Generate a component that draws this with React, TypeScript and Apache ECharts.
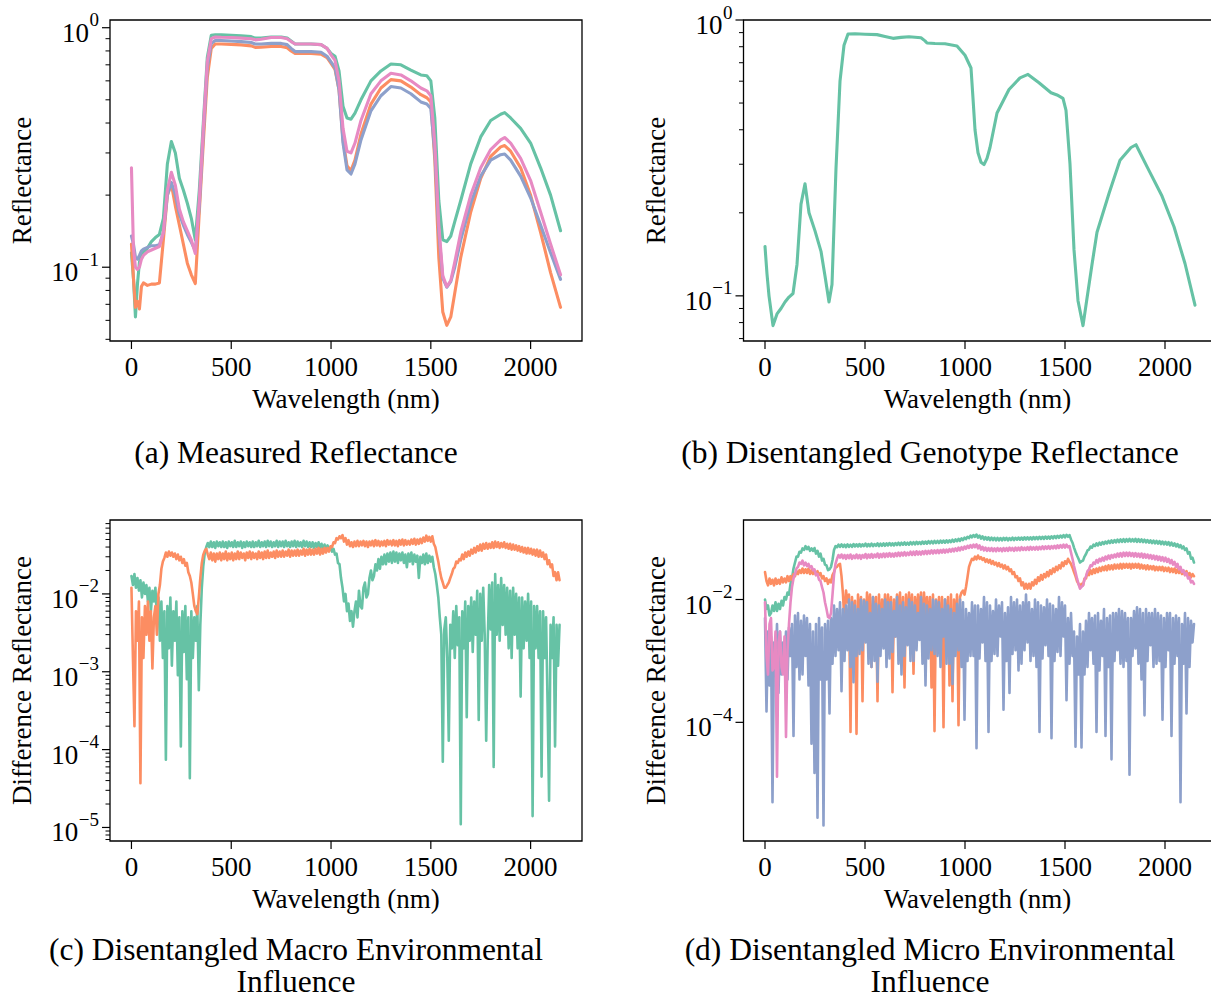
import React, { useEffect, useRef } from 'react';
import * as echarts from 'echarts';

const FONT = "'Liberation Serif', 'Times New Roman', Times, serif";
const C_GREEN = '#66c2a5';
const C_ORANGE = '#fc8d62';
const C_BLUE = '#8da0cb';
const C_PINK = '#e78ac3';

// ---------- (a) Measured Reflectance ----------
const xA = [0,10,20,30,40,50,60,80,100,120,140,160,180,200,220,240,260,280,300,320,340,360,380,400,420,450,500,550,600,620,650,700,750,780,800,820,850,900,950,980,1000,1020,1040,1060,1080,1100,1120,1150,1200,1250,1300,1350,1400,1450,1480,1500,1520,1540,1560,1580,1600,1620,1650,1700,1750,1800,1850,1870,1900,1950,2000,2050,2100,2150];
const measGreen = [0.115,0.09,0.062,0.085,0.105,0.113,0.116,0.12,0.128,0.133,0.137,0.16,0.27,0.335,0.3,0.235,0.21,0.185,0.16,0.13,0.21,0.40,0.75,0.93,0.935,0.935,0.93,0.925,0.918,0.905,0.905,0.915,0.915,0.905,0.88,0.855,0.855,0.855,0.85,0.82,0.78,0.76,0.66,0.47,0.42,0.415,0.44,0.5,0.6,0.66,0.705,0.7,0.665,0.635,0.63,0.6,0.42,0.19,0.13,0.128,0.135,0.155,0.19,0.27,0.35,0.41,0.435,0.442,0.42,0.38,0.33,0.26,0.2,0.142];
const measOrange = [0.125,0.09,0.068,0.072,0.067,0.083,0.086,0.084,0.085,0.085,0.086,0.13,0.2,0.222,0.18,0.15,0.125,0.104,0.093,0.0855,0.17,0.33,0.62,0.82,0.855,0.855,0.852,0.848,0.84,0.828,0.83,0.835,0.835,0.825,0.8,0.78,0.78,0.78,0.775,0.75,0.71,0.67,0.55,0.34,0.265,0.253,0.28,0.36,0.48,0.56,0.607,0.6,0.565,0.525,0.51,0.49,0.28,0.11,0.065,0.0572,0.062,0.078,0.11,0.17,0.235,0.29,0.318,0.322,0.305,0.26,0.2,0.14,0.095,0.068];
const measBlue = [0.135,0.125,0.11,0.108,0.112,0.117,0.119,0.121,0.123,0.123,0.124,0.14,0.2,0.226,0.2,0.167,0.15,0.137,0.127,0.117,0.18,0.36,0.68,0.86,0.885,0.885,0.88,0.875,0.868,0.855,0.855,0.86,0.86,0.85,0.82,0.795,0.795,0.795,0.79,0.76,0.72,0.68,0.55,0.33,0.255,0.245,0.27,0.34,0.45,0.52,0.568,0.56,0.53,0.49,0.48,0.46,0.3,0.14,0.09,0.0825,0.087,0.1,0.13,0.185,0.24,0.28,0.295,0.297,0.28,0.24,0.195,0.15,0.115,0.089];
const measPink = [0.26,0.12,0.1,0.098,0.1,0.108,0.112,0.116,0.118,0.12,0.122,0.14,0.21,0.249,0.22,0.175,0.155,0.142,0.13,0.114,0.19,0.38,0.72,0.9,0.915,0.912,0.91,0.905,0.9,0.89,0.895,0.91,0.91,0.9,0.875,0.855,0.855,0.855,0.85,0.82,0.77,0.73,0.6,0.38,0.305,0.3,0.33,0.41,0.53,0.6,0.645,0.635,0.6,0.56,0.545,0.52,0.33,0.15,0.092,0.083,0.088,0.105,0.14,0.2,0.26,0.31,0.34,0.348,0.33,0.285,0.23,0.17,0.125,0.093];

// ---------- (b) Disentangled Genotype Reflectance ----------
const xB = [0,10,20,40,60,80,100,120,140,160,180,200,220,250,280,300,320,335,355,375,395,415,450,500,560,600,640,680,720,780,800,810,850,900,960,1000,1030,1040,1050,1065,1080,1095,1110,1125,1160,1220,1275,1315,1370,1430,1460,1490,1505,1525,1545,1565,1590,1610,1635,1660,1720,1775,1830,1855,1910,1985,2045,2100,2150];
const genoGreen = [0.151,0.12,0.1,0.078,0.086,0.09,0.095,0.099,0.102,0.13,0.215,0.255,0.2,0.172,0.145,0.118,0.095,0.11,0.29,0.6,0.81,0.89,0.892,0.888,0.885,0.872,0.858,0.865,0.87,0.862,0.84,0.825,0.822,0.82,0.805,0.745,0.67,0.52,0.4,0.33,0.305,0.299,0.315,0.345,0.46,0.56,0.617,0.635,0.592,0.545,0.535,0.52,0.47,0.3,0.147,0.096,0.078,0.098,0.13,0.17,0.235,0.31,0.345,0.353,0.294,0.23,0.178,0.131,0.0925];

// ---------- (c) and (d): sampled every 7.5 nm ----------
const xF = [
  0,7.5,15,22.5,30,37.5,45,52.5,60,67.5,
  75,82.5,90,97.5,105,112.5,120,127.5,135,142.5,
  150,157.5,165,172.5,180,187.5,195,202.5,210,217.5,
  225,232.5,240,247.5,255,262.5,270,277.5,285,292.5,
  300,307.5,315,322.5,330,337.5,345,352.5,360,367.5,
  375,382.5,390,397.5,405,412.5,420,427.5,435,442.5,
  450,457.5,465,472.5,480,487.5,495,502.5,510,517.5,
  525,532.5,540,547.5,555,562.5,570,577.5,585,592.5,
  600,607.5,615,622.5,630,637.5,645,652.5,660,667.5,
  675,682.5,690,697.5,705,712.5,720,727.5,735,742.5,
  750,757.5,765,772.5,780,787.5,795,802.5,810,817.5,
  825,832.5,840,847.5,855,862.5,870,877.5,885,892.5,
  900,907.5,915,922.5,930,937.5,945,952.5,960,967.5,
  975,982.5,990,997.5,1005,1012.5,1020,1027.5,1035,1042.5,
  1050,1057.5,1065,1072.5,1080,1087.5,1095,1102.5,1110,1117.5,
  1125,1132.5,1140,1147.5,1155,1162.5,1170,1177.5,1185,1192.5,
  1200,1207.5,1215,1222.5,1230,1237.5,1245,1252.5,1260,1267.5,
  1275,1282.5,1290,1297.5,1305,1312.5,1320,1327.5,1335,1342.5,
  1350,1357.5,1365,1372.5,1380,1387.5,1395,1402.5,1410,1417.5,
  1425,1432.5,1440,1447.5,1455,1462.5,1470,1477.5,1485,1492.5,
  1500,1507.5,1515,1522.5,1530,1537.5,1545,1552.5,1560,1567.5,
  1575,1582.5,1590,1597.5,1605,1612.5,1620,1627.5,1635,1642.5,
  1650,1657.5,1665,1672.5,1680,1687.5,1695,1702.5,1710,1717.5,
  1725,1732.5,1740,1747.5,1755,1762.5,1770,1777.5,1785,1792.5,
  1800,1807.5,1815,1822.5,1830,1837.5,1845,1852.5,1860,1867.5,
  1875,1882.5,1890,1897.5,1905,1912.5,1920,1927.5,1935,1942.5,
  1950,1957.5,1965,1972.5,1980,1987.5,1995,2002.5,2010,2017.5,
  2025,2032.5,2040,2047.5,2055,2062.5,2070,2077.5,2085,2092.5,
  2100,2107.5,2115,2122.5,2130,2137.5,2145
];

const macroGreen = [
  1.7e-2,1.3e-2,1.8e-2,1.2e-2,1.6e-2,1.1e-2,1.5e-2,9e-3,1.4e-2,1.0e-2,
  1.3e-2,8e-3,1.2e-2,6e-3,1.1e-2,8e-3,1.2e-2,5e-3,9e-3,2.5e-3,
  8e-3,1.5e-3,6e-3,7.4e-5,7e-3,2e-3,9e-3,1.2e-3,6e-3,2.5e-3,
  8e-3,9e-4,5e-3,1.1e-4,6e-3,1.8e-3,7e-3,8e-4,5e-3,4.3e-5,
  6e-3,1.5e-3,5e-3,2.5e-3,7e-3,5.8e-4,4e-3,1.2e-2,2.3e-2,3.4e-2,
  4.0e-2,4.5e-2,4.0e-2,4.7e-2,4.0e-2,4.6e-2,3.9e-2,4.7e-2,4.1e-2,4.6e-2,
  4.0e-2,4.7e-2,4.0e-2,4.6e-2,3.9e-2,4.7e-2,4.1e-2,4.6e-2,4.0e-2,4.8e-2,
  4.0e-2,4.6e-2,4.1e-2,4.7e-2,3.9e-2,4.6e-2,4.0e-2,4.7e-2,4.1e-2,4.6e-2,
  4.0e-2,4.7e-2,4.0e-2,4.6e-2,4.1e-2,4.8e-2,4.0e-2,4.6e-2,4.1e-2,4.7e-2,
  4.0e-2,4.8e-2,4.1e-2,4.7e-2,4.0e-2,4.6e-2,4.1e-2,4.8e-2,4.0e-2,4.7e-2,
  4.1e-2,4.7e-2,4.0e-2,4.8e-2,4.1e-2,4.6e-2,4.0e-2,4.7e-2,4.1e-2,4.8e-2,
  4.0e-2,4.7e-2,4.1e-2,4.6e-2,4.0e-2,4.8e-2,4.1e-2,4.7e-2,4.0e-2,4.6e-2,
  4.0e-2,4.6e-2,3.9e-2,4.5e-2,4.0e-2,4.6e-2,3.9e-2,4.4e-2,3.8e-2,4.3e-2,
  3.7e-2,4.2e-2,3.6e-2,4.0e-2,3.5e-2,3.8e-2,3.2e-2,3.3e-2,2.5e-2,2.4e-2,
  1.6e-2,1.2e-2,8e-3,1.0e-2,6e-3,7.5e-3,4.5e-3,6e-3,3.8e-3,6e-3,
  8e-3,5e-3,1.1e-2,7e-3,6.5e-3,1.2e-2,1.4e-2,9e-3,1.0e-2,1.6e-2,
  2.0e-2,1.5e-2,1.7e-2,2.4e-2,2.0e-2,2.8e-2,2.1e-2,3.0e-2,2.4e-2,3.2e-2,
  2.4e-2,3.3e-2,2.6e-2,3.4e-2,2.5e-2,3.5e-2,2.6e-2,3.4e-2,2.5e-2,3.3e-2,
  2.7e-2,3.4e-2,2.5e-2,3.2e-2,2.2e-2,3.3e-2,2.6e-2,3.4e-2,2.4e-2,3.2e-2,
  2.6e-2,3.1e-2,1.6e-2,3.0e-2,2.5e-2,3.2e-2,2.4e-2,3.3e-2,2.5e-2,3.1e-2,
  2.6e-2,3.0e-2,2.2e-2,1.8e-2,1.3e-2,9e-3,5e-3,3e-3,7e-5,3.5e-3,
  5e-3,1.5e-3,1.3e-4,4e-3,2e-3,6e-3,1.5e-3,7e-3,2.2e-3,5e-3,
  1.1e-5,6e-3,2e-3,8e-3,2.6e-4,7e-3,2.5e-3,9e-3,1.8e-3,8e-3,
  3e-3,1.1e-2,2.4e-4,1.0e-2,2.5e-3,1.2e-2,3e-3,1.3e-4,2.5e-3,1.3e-2,
  3.5e-3,1.4e-2,6e-5,1.8e-2,3e-3,1.3e-2,2.5e-3,1.6e-2,4e-3,1.3e-2,
  3e-3,1.2e-2,2e-3,1.1e-2,1.5e-3,1.2e-2,3e-3,1.0e-2,2e-3,9e-3,
  4.8e-4,9e-3,2e-3,8e-3,2.5e-3,1.0e-2,1.5e-3,8e-3,1.4e-5,7e-3,
  2e-3,7e-3,1.5e-3,6e-3,4.5e-5,6e-3,1.5e-3,5e-3,4e-4,2.2e-5,
  4e-3,1.5e-3,5e-3,1.1e-4,4e-3,1.2e-3,4e-3
];
const macroOrange = [
  1.2e-2,1.5e-3,2e-4,6e-3,2.5e-3,8e-3,3.7e-5,5e-3,1.5e-3,7e-3,
  3e-3,8e-3,2.5e-3,6e-3,1.1e-3,5e-3,7e-3,3e-3,1.0e-2,1.3e-2,
  2.1e-2,2.6e-2,2.9e-2,3.4e-2,3.0e-2,3.5e-2,3.1e-2,3.4e-2,3.0e-2,3.3e-2,
  2.8e-2,3.2e-2,2.7e-2,3.0e-2,2.5e-2,2.8e-2,2.3e-2,2.5e-2,1.9e-2,1.7e-2,
  1.4e-2,1.0e-2,7e-3,6e-3,5.5e-3,9e-3,1.6e-2,2.5e-2,3.2e-2,3.6e-2,
  3.8e-2,3.2e-2,2.8e-2,3.4e-2,2.7e-2,3.3e-2,2.6e-2,3.3e-2,2.8e-2,3.4e-2,
  2.7e-2,3.3e-2,2.8e-2,3.5e-2,2.7e-2,3.3e-2,2.8e-2,3.4e-2,2.7e-2,3.3e-2,
  2.8e-2,3.5e-2,2.8e-2,3.4e-2,2.9e-2,3.3e-2,2.7e-2,3.4e-2,2.9e-2,3.5e-2,
  2.8e-2,3.4e-2,2.9e-2,3.3e-2,2.8e-2,3.5e-2,2.9e-2,3.4e-2,2.8e-2,3.5e-2,
  2.9e-2,3.6e-2,2.9e-2,3.4e-2,3.0e-2,3.5e-2,2.9e-2,3.6e-2,3.0e-2,3.5e-2,
  3.0e-2,3.6e-2,3.0e-2,3.5e-2,3.1e-2,3.7e-2,3.0e-2,3.6e-2,3.1e-2,3.6e-2,
  3.1e-2,3.7e-2,3.1e-2,3.6e-2,3.2e-2,3.8e-2,3.1e-2,3.7e-2,3.2e-2,3.8e-2,
  3.2e-2,3.7e-2,3.2e-2,3.8e-2,3.3e-2,3.9e-2,3.2e-2,3.8e-2,3.3e-2,3.9e-2,
  3.4e-2,3.9e-2,3.5e-2,4.1e-2,4.0e-2,4.6e-2,4.5e-2,5.2e-2,5.0e-2,5.5e-2,
  5.2e-2,5.7e-2,4.7e-2,5.2e-2,4.3e-2,4.9e-2,4.1e-2,4.6e-2,4.0e-2,4.7e-2,
  4.1e-2,4.8e-2,4.1e-2,4.7e-2,4.2e-2,4.8e-2,4.1e-2,4.7e-2,4.0e-2,4.7e-2,
  4.2e-2,4.8e-2,4.1e-2,4.9e-2,4.2e-2,4.8e-2,4.1e-2,4.7e-2,4.2e-2,4.8e-2,
  4.1e-2,4.9e-2,4.3e-2,4.8e-2,4.2e-2,4.9e-2,4.2e-2,4.8e-2,4.1e-2,4.9e-2,
  4.3e-2,5.0e-2,4.2e-2,4.9e-2,4.3e-2,4.8e-2,4.3e-2,5.0e-2,4.4e-2,5.1e-2,
  4.3e-2,5.0e-2,4.4e-2,5.1e-2,4.5e-2,5.3e-2,4.7e-2,5.6e-2,4.8e-2,5.4e-2,
  4.7e-2,5.5e-2,4.4e-2,4.0e-2,3.2e-2,2.6e-2,2.0e-2,1.6e-2,1.4e-2,1.2e-2,
  1.2e-2,1.3e-2,1.4e-2,1.6e-2,1.8e-2,2.1e-2,2.2e-2,2.6e-2,2.5e-2,2.8e-2,
  2.7e-2,3.2e-2,2.8e-2,3.4e-2,3.0e-2,3.5e-2,3.1e-2,3.7e-2,3.3e-2,3.9e-2,
  3.4e-2,4.1e-2,3.6e-2,4.3e-2,3.6e-2,4.4e-2,3.8e-2,4.5e-2,3.8e-2,4.4e-2,
  3.9e-2,4.6e-2,3.9e-2,4.7e-2,4.0e-2,4.6e-2,3.9e-2,4.5e-2,4.0e-2,4.6e-2,
  3.9e-2,4.4e-2,3.8e-2,4.4e-2,3.7e-2,4.3e-2,3.7e-2,4.2e-2,3.6e-2,4.1e-2,
  3.5e-2,4.0e-2,3.4e-2,3.9e-2,3.3e-2,3.9e-2,3.3e-2,3.8e-2,3.2e-2,3.7e-2,
  3.1e-2,3.7e-2,3.0e-2,3.6e-2,3.0e-2,3.4e-2,2.8e-2,3.2e-2,2.4e-2,2.7e-2,
  2.2e-2,2.4e-2,1.7e-2,1.9e-2,1.5e-2,1.9e-2,1.5e-2
];

const microGreen = [
  1.0e-2,7e-3,8e-3,5.5e-3,6e-3,8e-3,6.5e-3,9e-3,6.5e-3,8.5e-3,
  7e-3,9.5e-3,8e-3,1.1e-2,1.0e-2,1.3e-2,1.2e-2,1.8e-2,2.2e-2,3.2e-2,
  4.0e-2,5.0e-2,5.0e-2,6.0e-2,5.8e-2,6.8e-2,6.4e-2,7.4e-2,6.6e-2,7.2e-2,
  6.2e-2,6.8e-2,6.2e-2,6.9e-2,5.6e-2,6.2e-2,5.0e-2,5.6e-2,4.3e-2,4.6e-2,
  3.7e-2,3.6e-2,3.0e-2,3.1e-2,3.4e-2,4.4e-2,6.4e-2,7.4e-2,7.1e-2,7.8e-2,
  7.2e-2,7.9e-2,7.2e-2,7.8e-2,7.1e-2,7.9e-2,7.2e-2,7.8e-2,7.2e-2,8.0e-2,
  7.3e-2,7.9e-2,7.3e-2,8.0e-2,7.3e-2,7.9e-2,7.4e-2,8.1e-2,7.3e-2,8.0e-2,
  7.4e-2,8.1e-2,7.4e-2,8.0e-2,7.5e-2,8.2e-2,7.4e-2,8.1e-2,7.5e-2,8.2e-2,
  7.5e-2,8.2e-2,7.6e-2,8.3e-2,7.6e-2,8.2e-2,7.6e-2,8.3e-2,7.7e-2,8.4e-2,
  7.7e-2,8.4e-2,7.8e-2,8.5e-2,7.8e-2,8.4e-2,7.8e-2,8.6e-2,7.9e-2,8.6e-2,
  7.9e-2,8.7e-2,8.0e-2,8.6e-2,8.0e-2,8.8e-2,8.1e-2,8.8e-2,8.1e-2,8.9e-2,
  8.2e-2,8.9e-2,8.2e-2,9.0e-2,8.3e-2,9.0e-2,8.3e-2,9.1e-2,8.4e-2,9.1e-2,
  8.4e-2,9.2e-2,8.5e-2,9.2e-2,8.6e-2,9.4e-2,8.7e-2,9.5e-2,8.9e-2,9.7e-2,
  9.0e-2,9.9e-2,9.3e-2,1.02e-1,9.6e-2,1.05e-1,1.0e-1,1.1e-1,1.03e-1,1.12e-1,
  1.05e-1,1.14e-1,1.02e-1,1.1e-1,9.8e-2,1.07e-1,9.5e-2,1.04e-1,9.4e-2,1.03e-1,
  9.3e-2,1.02e-1,9.3e-2,1.01e-1,9.2e-2,1.01e-1,9.2e-2,1.0e-1,9.2e-2,1.01e-1,
  9.3e-2,1.01e-1,9.2e-2,1.0e-1,9.3e-2,1.02e-1,9.3e-2,1.01e-1,9.4e-2,1.02e-1,
  9.4e-2,1.02e-1,9.4e-2,1.03e-1,9.5e-2,1.03e-1,9.5e-2,1.03e-1,9.5e-2,1.04e-1,
  9.6e-2,1.04e-1,9.6e-2,1.05e-1,9.7e-2,1.05e-1,9.7e-2,1.06e-1,9.8e-2,1.06e-1,
  9.8e-2,1.07e-1,9.9e-2,1.08e-1,1.0e-1,1.09e-1,1.01e-1,1.1e-1,1.02e-1,1.12e-1,
  1.03e-1,1.13e-1,1.05e-1,1.12e-1,9.5e-2,8.4e-2,7.0e-2,6.0e-2,5.2e-2,4.6e-2,
  4.0e-2,4.2e-2,4.3e-2,5.0e-2,5.5e-2,6.3e-2,6.5e-2,7.3e-2,7.0e-2,7.8e-2,
  7.4e-2,8.2e-2,7.6e-2,8.4e-2,7.8e-2,8.6e-2,8.0e-2,8.8e-2,8.2e-2,9.0e-2,
  8.3e-2,9.2e-2,8.4e-2,9.3e-2,8.5e-2,9.4e-2,8.6e-2,9.5e-2,8.7e-2,9.6e-2,
  8.7e-2,9.6e-2,8.8e-2,9.7e-2,8.8e-2,9.6e-2,8.8e-2,9.7e-2,8.7e-2,9.6e-2,
  8.7e-2,9.5e-2,8.6e-2,9.4e-2,8.5e-2,9.3e-2,8.4e-2,9.2e-2,8.3e-2,9.1e-2,
  8.2e-2,9.0e-2,8.1e-2,8.9e-2,8.0e-2,8.8e-2,7.9e-2,8.7e-2,7.8e-2,8.6e-2,
  7.6e-2,8.4e-2,7.5e-2,8.2e-2,7.3e-2,8.0e-2,7.1e-2,7.7e-2,6.8e-2,7.3e-2,
  6.4e-2,6.8e-2,5.6e-2,5.9e-2,4.6e-2,4.8e-2,4.0e-2
];
const microOrange = [
  2.8e-2,2.0e-2,1.7e-2,2.2e-2,1.8e-2,2.1e-2,1.7e-2,2.2e-2,1.8e-2,2.1e-2,
  1.8e-2,2.3e-2,1.9e-2,2.2e-2,1.9e-2,2.4e-2,2.0e-2,2.4e-2,2.1e-2,2.6e-2,
  2.4e-2,2.9e-2,2.6e-2,3.0e-2,2.7e-2,3.2e-2,2.7e-2,3.1e-2,2.7e-2,3.2e-2,
  2.6e-2,3.0e-2,2.6e-2,2.9e-2,2.5e-2,2.9e-2,2.5e-2,2.7e-2,2.2e-2,2.4e-2,
  2.0e-2,2.2e-2,1.8e-2,2.1e-2,1.9e-2,2.5e-2,2.8e-2,3.3e-2,3.4e-2,3.7e-2,
  3.8e-2,2.4e-2,1.2e-2,4e-3,1.4e-2,9e-3,1.2e-2,7e-5,1.1e-2,3e-3,
  9.5e-3,6.5e-5,1.2e-2,4e-3,1.1e-2,2.2e-4,1.0e-2,2.5e-3,1.3e-2,5e-3,
  1.2e-2,8e-4,1.1e-2,3e-3,1.1e-2,2.2e-4,1.2e-2,2e-3,1.0e-2,4e-3,
  1.2e-2,3e-3,1.2e-2,4e-3,1.1e-2,3.1e-4,1.0e-2,2.5e-3,1.2e-2,5e-3,
  1.3e-2,1.5e-3,1.1e-2,3.7e-4,1.2e-2,3e-3,1.3e-2,4e-3,1.2e-2,6.2e-4,
  1.1e-2,4e-3,1.2e-2,5e-3,1.3e-2,2e-3,1.3e-2,5e-3,1.1e-2,3e-3,
  1.1e-2,3.7e-4,1.2e-2,7.2e-5,1.0e-2,3e-3,1.1e-2,1.2e-3,1.1e-2,8.3e-5,
  1.0e-2,2.5e-3,1.1e-2,4e-4,1.2e-2,2.2e-4,1.0e-2,3e-3,1.2e-2,9e-5,
  1.1e-2,1.3e-2,1.4e-2,1.2e-2,1.6e-2,2.3e-2,3.4e-2,4.0e-2,4.6e-2,4.4e-2,
  5.0e-2,4.5e-2,5.2e-2,4.6e-2,4.9e-2,4.4e-2,4.7e-2,4.1e-2,4.5e-2,4.0e-2,
  4.4e-2,3.8e-2,4.2e-2,3.7e-2,4.0e-2,3.5e-2,3.9e-2,3.4e-2,3.7e-2,3.2e-2,
  3.6e-2,3.1e-2,3.4e-2,2.9e-2,3.1e-2,2.6e-2,2.8e-2,2.3e-2,2.4e-2,2.0e-2,
  2.2e-2,1.7e-2,1.9e-2,1.5e-2,1.8e-2,1.5e-2,1.8e-2,1.5e-2,1.9e-2,1.7e-2,
  2.1e-2,1.8e-2,2.3e-2,2.0e-2,2.5e-2,2.1e-2,2.6e-2,2.3e-2,2.8e-2,2.4e-2,
  3.0e-2,2.6e-2,3.2e-2,2.8e-2,3.4e-2,3.0e-2,3.6e-2,3.2e-2,4.0e-2,3.5e-2,
  4.2e-2,3.8e-2,4.6e-2,4.1e-2,3.8e-2,3.3e-2,2.8e-2,2.4e-2,2.0e-2,1.8e-2,
  1.6e-2,1.8e-2,1.7e-2,2.2e-2,2.2e-2,2.8e-2,2.5e-2,3.0e-2,2.6e-2,3.1e-2,
  2.7e-2,3.2e-2,2.8e-2,3.3e-2,2.9e-2,3.4e-2,3.0e-2,3.5e-2,3.0e-2,3.6e-2,
  3.1e-2,3.6e-2,3.1e-2,3.7e-2,3.2e-2,3.7e-2,3.2e-2,3.8e-2,3.2e-2,3.8e-2,
  3.3e-2,3.8e-2,3.3e-2,3.8e-2,3.2e-2,3.8e-2,3.3e-2,3.8e-2,3.3e-2,3.8e-2,
  3.2e-2,3.7e-2,3.2e-2,3.6e-2,3.1e-2,3.6e-2,3.1e-2,3.5e-2,3.1e-2,3.5e-2,
  3.0e-2,3.4e-2,3.0e-2,3.4e-2,3.0e-2,3.4e-2,2.9e-2,3.3e-2,2.9e-2,3.3e-2,
  2.8e-2,3.2e-2,2.8e-2,3.2e-2,2.7e-2,3.1e-2,2.7e-2,3.1e-2,2.6e-2,2.9e-2,
  2.5e-2,2.9e-2,2.4e-2,2.7e-2,2.3e-2,2.6e-2,2.4e-2
];
const microBlue = [
  5e-3,1.5e-4,3e-3,4e-4,2.5e-3,5e-6,2e-3,6e-4,4e-3,3e-4,
  3e-3,6e-4,2e-3,8e-4,3e-3,5e-4,3.5e-3,1.2e-3,4e-3,6e-5,
  5.5e-3,8e-4,6e-3,5e-4,4.5e-3,6e-4,5.5e-3,1.2e-3,5e-3,4e-4,
  4e-3,4.5e-5,3e-3,1.5e-5,4e-3,2.8e-6,5e-3,5e-4,3.5e-3,2.1e-6,
  4e-3,5e-4,4.5e-3,1.4e-4,5e-3,9e-4,8e-3,1.2e-3,7e-3,1.5e-3,
  9e-3,3.2e-4,7e-3,1e-3,8e-3,1.5e-3,1.0e-2,8e-4,9e-3,4.5e-4,
  8e-3,1.2e-3,7e-3,1.3e-3,1.0e-2,1.5e-3,9.5e-3,2e-3,9e-3,9e-4,
  6e-3,8e-4,1.1e-2,1e-3,8.5e-3,4.6e-4,8e-3,1.2e-3,7e-3,1.6e-3,
  1.0e-2,8e-4,9e-3,1.1e-3,9e-3,1.4e-3,6.5e-3,2.5e-3,1.1e-2,9e-4,
  8e-3,6e-4,9e-3,1.2e-3,7.5e-3,1.8e-3,1.0e-2,1e-3,9e-3,1e-3,
  8e-3,1.5e-3,6e-3,2.2e-3,1.1e-2,9e-4,8.5e-3,4e-4,8e-3,1.1e-3,
  7e-3,1.5e-3,1.0e-2,1.3e-3,9.5e-3,1.2e-3,9e-3,8e-4,7e-3,2.5e-3,
  1.0e-2,9e-4,8e-3,9e-4,7e-3,4.2e-4,6e-3,1.2e-3,8.5e-3,1.5e-3,
  1.0e-2,8e-4,9e-3,1.1e-4,7e-3,1e-3,6e-3,1.2e-3,9e-3,1.2e-3,
  8e-3,3.8e-5,8e-3,1.1e-3,7e-3,2e-3,1.1e-2,1e-3,9e-3,7e-5,
  8e-3,1e-3,6.5e-3,1.3e-3,1.0e-2,1.2e-3,8e-3,2.5e-3,9e-3,1.6e-4,
  6e-3,1e-3,7.5e-3,3e-4,1.1e-2,1.3e-3,9e-3,1.5e-3,1.0e-2,7e-4,
  8e-3,9e-4,9e-3,1.5e-3,1.2e-2,2e-3,9e-3,1e-3,7e-3,1.2e-3,
  1.0e-2,8e-4,9e-3,7e-5,8e-3,1.1e-3,7.5e-3,1.8e-3,1.0e-2,1.2e-3,
  8.5e-3,5.5e-5,8e-3,1e-3,7e-3,1.4e-3,1.1e-2,1.2e-3,9e-3,2.5e-3,
  8e-3,2.3e-4,5e-3,9e-4,6e-3,1.2e-3,3e-3,4e-5,2.5e-3,6e-4,
  4e-3,3.9e-5,3e-3,6e-4,4.5e-3,8e-4,6e-3,1.5e-3,5e-3,9e-4,
  5.5e-3,7e-5,6e-3,7e-4,4.5e-3,1.2e-3,7e-3,6e-5,5e-3,8e-4,
  5.5e-3,2.5e-5,6e-3,1e-3,6e-3,1.5e-3,7e-3,9e-4,6.5e-3,8e-4,
  6e-3,1e-3,5e-3,1.4e-5,5e-3,1.2e-3,6.5e-3,1.6e-3,7.5e-3,9e-4,
  7e-3,5e-4,6e-3,1.3e-4,7e-3,1e-3,6e-3,1.8e-3,6e-3,8e-4,
  7e-3,9e-4,6e-3,1e-3,5.5e-3,1.1e-4,5e-3,8e-4,6e-3,1.5e-3,
  6e-3,6e-5,5e-3,9e-4,5.5e-3,1.2e-3,5e-3,5e-6,4e-3,9e-4,
  6e-3,1.4e-4,5e-3,8e-4,4.5e-3,2e-3,4e-3
];
const microPink = [
  9e-3,1.2e-3,6e-4,4e-3,5e-3,7e-4,8e-4,3e-3,1.3e-5,2e-3,
  3e-3,8e-4,6e-4,2.5e-3,5.8e-5,1.5e-3,4e-3,9e-3,1.6e-2,2.2e-2,
  2.6e-2,3.2e-2,3.4e-2,4.0e-2,3.8e-2,4.3e-2,3.6e-2,4.0e-2,3.5e-2,3.8e-2,
  3.3e-2,3.5e-2,3.0e-2,3.1e-2,2.5e-2,2.6e-2,2.1e-2,2.0e-2,1.6e-2,1.3e-2,
  9e-3,7e-3,5.2e-3,5e-3,6e-3,1.2e-2,2.5e-2,3.8e-2,4.6e-2,5.3e-2,
  4.8e-2,5.4e-2,4.7e-2,5.3e-2,4.6e-2,5.3e-2,4.7e-2,5.4e-2,4.6e-2,5.2e-2,
  4.7e-2,5.4e-2,4.7e-2,5.3e-2,4.6e-2,5.3e-2,4.8e-2,5.5e-2,4.7e-2,5.4e-2,
  4.8e-2,5.5e-2,4.8e-2,5.4e-2,4.9e-2,5.6e-2,4.8e-2,5.5e-2,4.9e-2,5.6e-2,
  4.9e-2,5.6e-2,5.0e-2,5.7e-2,5.0e-2,5.6e-2,5.0e-2,5.7e-2,5.1e-2,5.8e-2,
  5.1e-2,5.8e-2,5.2e-2,5.9e-2,5.2e-2,5.8e-2,5.3e-2,6.0e-2,5.3e-2,6.0e-2,
  5.3e-2,6.1e-2,5.4e-2,6.0e-2,5.4e-2,6.1e-2,5.5e-2,6.2e-2,5.5e-2,6.2e-2,
  5.6e-2,6.3e-2,5.6e-2,6.3e-2,5.7e-2,6.4e-2,5.7e-2,6.4e-2,5.8e-2,6.5e-2,
  5.8e-2,6.5e-2,5.9e-2,6.6e-2,6.0e-2,6.7e-2,6.1e-2,6.8e-2,6.2e-2,7.0e-2,
  6.3e-2,7.1e-2,6.5e-2,7.3e-2,6.7e-2,7.5e-2,6.9e-2,7.7e-2,7.0e-2,7.8e-2,
  7.1e-2,7.9e-2,6.8e-2,7.6e-2,6.5e-2,7.2e-2,6.3e-2,7.0e-2,6.2e-2,6.9e-2,
  6.2e-2,6.9e-2,6.1e-2,6.8e-2,6.1e-2,6.9e-2,6.2e-2,6.8e-2,6.1e-2,6.9e-2,
  6.2e-2,6.9e-2,6.2e-2,7.0e-2,6.3e-2,6.9e-2,6.2e-2,7.0e-2,6.3e-2,7.0e-2,
  6.3e-2,7.1e-2,6.4e-2,7.0e-2,6.4e-2,7.1e-2,6.4e-2,7.2e-2,6.5e-2,7.1e-2,
  6.5e-2,7.2e-2,6.5e-2,7.2e-2,6.6e-2,7.3e-2,6.6e-2,7.3e-2,6.7e-2,7.4e-2,
  6.7e-2,7.4e-2,6.8e-2,7.5e-2,6.8e-2,7.6e-2,6.9e-2,7.7e-2,7.0e-2,7.8e-2,
  7.0e-2,7.8e-2,7.1e-2,7.4e-2,5.8e-2,4.6e-2,3.5e-2,2.8e-2,2.2e-2,1.8e-2,
  1.5e-2,1.6e-2,1.7e-2,2.1e-2,2.4e-2,2.9e-2,3.1e-2,3.6e-2,3.5e-2,4.0e-2,
  3.8e-2,4.4e-2,4.0e-2,4.6e-2,4.2e-2,4.8e-2,4.3e-2,5.0e-2,4.5e-2,5.2e-2,
  4.6e-2,5.3e-2,4.8e-2,5.4e-2,4.9e-2,5.6e-2,5.0e-2,5.7e-2,5.0e-2,5.8e-2,
  5.1e-2,5.8e-2,5.1e-2,5.8e-2,5.1e-2,5.7e-2,5.0e-2,5.7e-2,5.0e-2,5.6e-2,
  4.9e-2,5.6e-2,4.8e-2,5.5e-2,4.8e-2,5.4e-2,4.7e-2,5.3e-2,4.6e-2,5.2e-2,
  4.5e-2,5.1e-2,4.4e-2,5.0e-2,4.3e-2,4.9e-2,4.2e-2,4.8e-2,4.1e-2,4.6e-2,
  3.9e-2,4.4e-2,3.7e-2,4.1e-2,3.4e-2,3.8e-2,3.1e-2,3.4e-2,2.8e-2,3.0e-2,
  2.5e-2,2.7e-2,2.2e-2,2.3e-2,1.9e-2,2.0e-2,1.8e-2
];

// ---------- axes ----------
const X_MIN = -107.5;
const X_MAX = 2257.5;
const X_TICKS = [0, 500, 1000, 1500, 2000];

const TICK_SIZE = 27;
const EXP_SIZE = 19;
const TITLE_SIZE = 27;
const CAPTION_SIZE = 31.5;

function minorsFor(decades: number[], lo: number, hi: number) {
  const out: number[] = [];
  decades.forEach((d) => {
    for (let m = 2; m <= 9; m++) {
      const v = Number((m * d).toPrecision(3));
      if (v >= lo && v <= hi) out.push(v);
    }
  });
  return out;
}

type Line = { x: number[]; y: number[]; color: string };
type Panel = {
  left: number; top: number; width: number; height: number;
  yMin: number; yMax: number;
  majors: number[]; minors: number[];
  yTitle: string; lines: Line[]; lineWidth: number;
  caption: string[]; capX: number; capY: number;
};

const PANELS: Panel[] = [
  {
    left: 110, top: 20, width: 472, height: 321,
    yMin: 0.0492, yMax: 1.077,
    majors: [0.1, 1], minors: minorsFor([0.01, 0.1], 0.0492, 1.077),
    yTitle: 'Reflectance', lineWidth: 3.1,
    lines: [
      { x: xA, y: measGreen, color: C_GREEN },
      { x: xA, y: measOrange, color: C_ORANGE },
      { x: xA, y: measBlue, color: C_BLUE },
      { x: xA, y: measPink, color: C_PINK },
    ],
    caption: ['(a) Measured Reflectance'], capX: 296, capY: 452,
  },
  {
    left: 743.5, top: 20, width: 473, height: 321,
    yMin: 0.0686, yMax: 1.0,
    majors: [0.1, 1], minors: minorsFor([0.01, 0.1], 0.0686, 1.0),
    yTitle: 'Reflectance', lineWidth: 3.1,
    lines: [{ x: xB, y: genoGreen, color: C_GREEN }],
    caption: ['(b) Disentangled Genotype Reflectance'], capX: 930, capY: 452,
  },
  {
    left: 110, top: 520, width: 472, height: 321,
    yMin: 6.7e-6, yMax: 0.089,
    majors: [1e-5, 1e-4, 1e-3, 1e-2],
    minors: minorsFor([1e-6, 1e-5, 1e-4, 1e-3, 1e-2], 6.7e-6, 0.089),
    yTitle: 'Difference Reflectance', lineWidth: 2.6,
    lines: [
      { x: xF, y: macroGreen, color: C_GREEN },
      { x: xF, y: macroOrange, color: C_ORANGE },
    ],
    caption: ['(c) Disentangled Macro Environmental', 'Influence'], capX: 296, capY: 949,
  },
  {
    left: 743.5, top: 520, width: 473, height: 321,
    yMin: 1.17e-6, yMax: 0.197,
    majors: [1e-4, 1e-2], minors: [],
    yTitle: 'Difference Reflectance', lineWidth: 2.6,
    lines: [
      { x: xF, y: microGreen, color: C_GREEN },
      { x: xF, y: microOrange, color: C_ORANGE },
      { x: xF, y: microBlue, color: C_BLUE },
      { x: xF, y: microPink, color: C_PINK },
    ],
    caption: ['(d) Disentangled Micro Environmental', 'Influence'], capX: 930, capY: 949,
  },
];

function buildOption() {
  const grid: any[] = [];
  const xAxis: any[] = [];
  const yAxis: any[] = [];
  const series: any[] = [];
  const graphic: any[] = [];

  PANELS.forEach((p, i) => {
    grid.push({
      left: p.left, top: p.top, width: p.width, height: p.height,
      show: true, borderColor: '#000', borderWidth: 1.3,
      backgroundColor: 'rgba(0,0,0,0)', containLabel: false, outerBoundsMode: 'none',
    });
    xAxis.push({
      type: 'value', gridIndex: i, min: X_MIN, max: X_MAX,
      axisLine: { show: false }, axisTick: { show: false },
      axisLabel: { show: false }, splitLine: { show: false },
    });
    yAxis.push({
      type: 'log', logBase: 10, gridIndex: i, min: p.yMin, max: p.yMax,
      axisLine: { show: false }, axisTick: { show: false },
      axisLabel: { show: false }, splitLine: { show: false },
    });

    p.lines.forEach((ln) => {
      const n = Math.min(ln.x.length, ln.y.length);
      const data: number[][] = [];
      for (let k = 0; k < n; k++) data.push([ln.x[k], ln.y[k]]);
      series.push({
        type: 'line', xAxisIndex: i, yAxisIndex: i, data,
        showSymbol: false, symbol: 'none', silent: true, z: 2,
        lineStyle: { color: ln.color, width: p.lineWidth, cap: 'round', join: 'round' },
        itemStyle: { color: ln.color },
      });
    });

    // y ticks and labels
    const yTickData = [
      ...p.majors.map((v) => [X_MIN, v, 1]),
      ...p.minors.map((v) => [X_MIN, v, 0]),
    ];
    series.push({
      type: 'custom', xAxisIndex: i, yAxisIndex: i, silent: true, clip: false, z: 5,
      data: yTickData, encode: { x: 0, y: 1 },
      renderItem: (params: any, api: any) => {
        const v = api.value(1);
        const major = api.value(2) === 1;
        const pt = api.coord([X_MIN, v]);
        const len = major ? 8 : 4.5;
        const children: any[] = [{
          type: 'line',
          shape: { x1: pt[0] - len, y1: pt[1], x2: pt[0], y2: pt[1] },
          style: { stroke: '#000', lineWidth: major ? 1.2 : 1 },
        }];
        if (major) {
          const e = Math.round(Math.log10(v));
          const digits = String(Math.abs(e));
          const expStr = e < 0 ? '\u2212' + digits : digits;
          const expW = EXP_SIZE * ((e < 0 ? 0.564 : 0) + 0.5 * digits.length);
          const xr = pt[0] - 11;
          children.push({
            type: 'text', x: xr, y: pt[1] - 8,
            style: { text: expStr, fontSize: EXP_SIZE, fontFamily: FONT, fill: '#000', align: 'right', verticalAlign: 'middle' },
          });
          children.push({
            type: 'text', x: xr - expW - 0.5, y: pt[1] + 5,
            style: { text: '10', fontSize: TICK_SIZE, fontFamily: FONT, fill: '#000', align: 'right', verticalAlign: 'middle' },
          });
        }
        return { type: 'group', children };
      },
    });

    // x ticks and labels
    series.push({
      type: 'custom', xAxisIndex: i, yAxisIndex: i, silent: true, clip: false, z: 5,
      data: X_TICKS.map((v) => [v, p.yMin]), encode: { x: 0, y: 1 },
      renderItem: (params: any, api: any) => {
        const v = api.value(0);
        const pt = api.coord([v, p.yMin]);
        return {
          type: 'group',
          children: [
            { type: 'line', shape: { x1: pt[0], y1: pt[1], x2: pt[0], y2: pt[1] + 8 }, style: { stroke: '#000', lineWidth: 1.2 } },
            { type: 'text', x: pt[0], y: pt[1] + 25.5, style: { text: String(v), fontSize: TICK_SIZE, fontFamily: FONT, fill: '#000', align: 'center', verticalAlign: 'middle' } },
          ],
        };
      },
    });

    // axis titles
    graphic.push({
      type: 'text', x: p.left + p.width / 2 - (i % 2 === 1 ? 2.5 : 0), y: p.top + p.height + 58,
      style: { text: 'Wavelength (nm)', fontSize: TITLE_SIZE, fontFamily: FONT, fill: '#000', align: 'center', verticalAlign: 'middle' },
    });
    graphic.push({
      type: 'text', x: p.left - 88, y: p.top + p.height / 2, rotation: Math.PI / 2,
      style: { text: p.yTitle, fontSize: TITLE_SIZE, fontFamily: FONT, fill: '#000', align: 'center', verticalAlign: 'middle' },
    });
    // captions
    p.caption.forEach((c, k) => {
      graphic.push({
        type: 'text', x: p.capX, y: p.capY + k * 32,
        style: { text: c, fontSize: CAPTION_SIZE, fontFamily: FONT, fill: '#000', align: 'center', verticalAlign: 'middle', lineHeight: 31 },
      });
    });
  });

  return {
    animation: false,
    backgroundColor: '#ffffff',
    grid, xAxis, yAxis, series, graphic,
  };
}

export default function App() {
  const ref = useRef<HTMLDivElement | null>(null);
  useEffect(() => {
    if (!ref.current) return;
    const chart = echarts.init(ref.current, null, { renderer: 'svg' });
    chart.setOption(buildOption() as any);
    return () => chart.dispose();
  }, []);
  return (
    <div
      ref={ref}
      style={{ position: 'absolute', left: 0, top: 0, width: 1211, height: 998, background: '#fff', overflow: 'hidden' }}
    />
  );
}
